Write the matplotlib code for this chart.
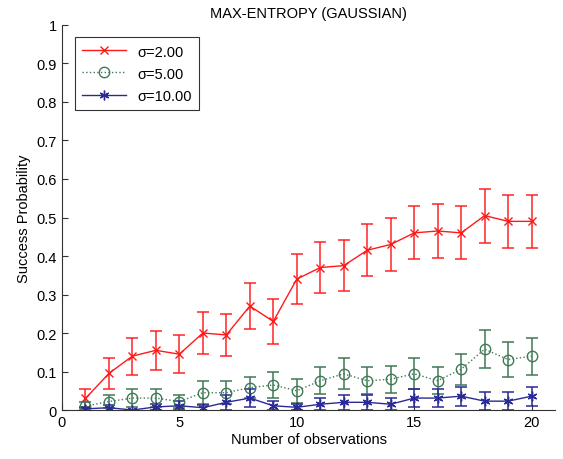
import numpy as np
import matplotlib
matplotlib.use('Agg')
import matplotlib.pyplot as plt

plt.rcParams['font.family'] = ['Liberation Sans', 'DejaVu Sans']

# number of observations
n_obs = np.arange(1, 21)

# sigma = 2.00
p_s2 = [0.03, 0.095, 0.14, 0.155, 0.145, 0.2, 0.195, 0.27, 0.23, 0.34,
        0.37, 0.375, 0.415, 0.43, 0.46, 0.465, 0.46, 0.505, 0.49, 0.49]
err_s2 = [0.025, 0.04, 0.048, 0.05, 0.05, 0.055, 0.055, 0.06, 0.058, 0.065,
          0.067, 0.067, 0.067, 0.068, 0.069, 0.069, 0.069, 0.07, 0.069, 0.069]

# sigma = 5.00
p_s5 = [0.01, 0.022, 0.031, 0.031, 0.022, 0.045, 0.045, 0.058, 0.065, 0.05,
        0.076, 0.094, 0.076, 0.08, 0.094, 0.076, 0.106, 0.158, 0.131, 0.14]
err_s5 = [0.01, 0.018, 0.023, 0.023, 0.018, 0.03, 0.03, 0.028, 0.033, 0.031,
          0.035, 0.04, 0.035, 0.035, 0.04, 0.035, 0.04, 0.05, 0.046, 0.048]

# sigma = 10.00
p_s10 = [0.003, 0.006, 0.0, 0.008, 0.011, 0.006, 0.02, 0.031, 0.011, 0.007,
         0.015, 0.02, 0.02, 0.015, 0.031, 0.031, 0.036, 0.023, 0.023, 0.036]
err_s10 = [0.005, 0.008, 0.0, 0.008, 0.012, 0.008, 0.019, 0.023, 0.012, 0.008,
           0.016, 0.02, 0.02, 0.016, 0.023, 0.023, 0.025, 0.023, 0.023, 0.025]

labels = ['σ=2.00', 'σ=5.00', 'σ=10.00']

red = '#ff1a1a'
green = '#3f7a55'
blue = '#2a2a96'

fig = plt.figure(figsize=(5.63, 4.6), dpi=100)
ax = fig.add_axes([0.110, 0.1065, 0.876, 0.837])

# error bars first (slightly lighter), then lines with markers on top
ax.errorbar(n_obs, p_s2, yerr=err_s2, fmt='none', ecolor=red, alpha=0.75,
            elinewidth=1.4, capsize=4.5, capthick=1.4)
ax.errorbar(n_obs, p_s5, yerr=err_s5, fmt='none', ecolor=green, alpha=0.85,
            elinewidth=1.3, capsize=4.5, capthick=1.3)
ax.errorbar(n_obs, p_s10, yerr=err_s10, fmt='none', ecolor=blue, alpha=0.85,
            elinewidth=1.3, capsize=4.5, capthick=1.3)

ax.plot(n_obs, p_s2, '-', color=red, marker='x', markersize=6, lw=1.0,
        label=labels[0])
ax.plot(n_obs, p_s5, ':', color=green, marker='o', markersize=7.5,
        markerfacecolor='none', lw=1.0, label=labels[1])
ax.plot(n_obs, p_s10, '-', color=blue, marker=(6, 2, 0), markersize=7,
        lw=1.0, label=labels[2])

ax.set_xlim(0, 21)
ax.set_ylim(0, 1)
ax.set_xticks([0, 5, 10, 15, 20])
ax.set_yticks(np.arange(0, 1.01, 0.1))
ax.set_yticklabels(['0', '0.1', '0.2', '0.3', '0.4', '0.5', '0.6', '0.7',
                    '0.8', '0.9', '1'])
ax.tick_params(direction='in', length=4, labelsize=10.5, color='#333333')

ax.spines['top'].set_visible(False)
ax.spines['right'].set_visible(False)
ax.spines['left'].set_color('#333333')
ax.spines['bottom'].set_color('#333333')

ax.set_xlabel('Number of observations', fontsize=10.5, labelpad=2)
ax.set_ylabel('Success Probability', fontsize=10.5, labelpad=4)
ax.set_title('MAX-ENTROPY (GAUSSIAN)', fontsize=10.5, pad=6)

leg = ax.legend(loc='upper left', bbox_to_anchor=(0.011, 0.987), fontsize=10.5,
                frameon=True, fancybox=False, edgecolor='black',
                handlelength=3, borderpad=0.5, labelspacing=0.55)
leg.get_frame().set_linewidth(0.8)

fig.savefig('out.png', dpi=100)
